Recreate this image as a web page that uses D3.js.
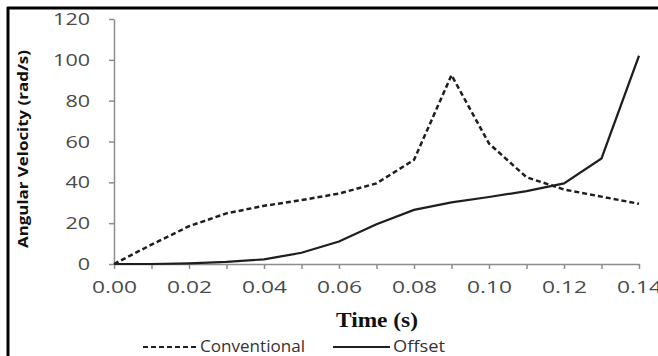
<!DOCTYPE html>
<html>
<head>
<meta charset="utf-8">
<script src="https://cdn.jsdelivr.net/npm/d3@7"></script>
<style>
  body { margin: 0; background: #fff; }
  svg { display: block; }
</style>
</head>
<body>
<svg id="chart" width="658" height="356"></svg>
<script>
// time values (s)
const times = [0, 0.01, 0.02, 0.03, 0.04, 0.05, 0.06, 0.07, 0.08, 0.09, 0.10, 0.11, 0.12, 0.13, 0.14];
// angular velocity (rad/s)
const conventional = [0, 9.5, 18.5, 24.8, 28.5, 31.3, 34.5, 39.5, 51, 92.5, 59, 42.5, 36.5, 33, 29.5];
const offset = [0, 0, 0.3, 1, 2.3, 5.5, 11, 19.5, 26.5, 30.2, 32.8, 35.7, 39.5, 51.7, 102];
const xTickLabels = [0, 0.02, 0.04, 0.06, 0.08, 0.10, 0.12, 0.14];
const yTickLabels = [0, 20, 40, 60, 80, 100, 120];
const seriesNames = ['Conventional', 'Offset'];

const svg = d3.select('#chart');
const axisColor = '#8c8c8c';
const lineColor = '#1e1e1e';

const x = d3.scaleLinear().domain([0, 0.14]).range([114, 639]);
const y = d3.scaleLinear().domain([0, 120]).range([264, 19]);

// frame (top and left edges of the cropped figure box)
svg.append('line').attr('x1', 7).attr('x2', 658).attr('y1', 8).attr('y2', 8)
  .attr('stroke', '#000').attr('stroke-width', 3);
svg.append('line').attr('x1', 8).attr('x2', 8).attr('y1', 7).attr('y2', 356)
  .attr('stroke', '#000').attr('stroke-width', 3);

// y axis
const yAxis = svg.append('g')
  .attr('transform', `translate(${x(0)},0)`)
  .call(d3.axisLeft(y).tickValues(yTickLabels).tickSize(5).tickSizeOuter(0).tickPadding(19)
    .tickFormat(d3.format('d')));
yAxis.select('.domain').attr('stroke', axisColor).attr('stroke-width', 1.5);
yAxis.selectAll('.tick line').attr('stroke', axisColor).attr('stroke-width', 1.5);
yAxis.selectAll('.tick text')
  .attr('fill', '#4a4a4a')
  .style('font-family', '"Open Sans", sans-serif')
  .style('font-size', '16px')
  .attr('dy', '0.35em')
  .attr('textLength', d => String(d).length * 12.3)
  .attr('lengthAdjust', 'spacingAndGlyphs');

// x axis, minor ticks every 0.01 and labels every 0.02
const xAxis = svg.append('g')
  .attr('transform', `translate(0,${y(0)})`)
  .call(d3.axisBottom(x).tickValues(times).tickSize(5).tickSizeOuter(0).tickPadding(12)
    .tickFormat(d => xTickLabels.some(v => Math.abs(v - d) < 1e-9) ? d3.format('.2f')(d) : ''));
xAxis.select('.domain').attr('stroke', axisColor).attr('stroke-width', 1.5);
xAxis.selectAll('.tick line').attr('stroke', axisColor).attr('stroke-width', 1.5);
xAxis.selectAll('.tick text')
  .filter(function () { return this.textContent !== ''; })
  .attr('fill', '#4a4a4a')
  .style('font-family', '"Open Sans", sans-serif')
  .style('font-size', '17px')
  .attr('textLength', 45)
  .attr('lengthAdjust', 'spacingAndGlyphs');

// axis titles
svg.append('text')
  .attr('x', 377).attr('y', 327)
  .attr('text-anchor', 'middle')
  .style('font-family', '"Liberation Serif", "Times New Roman", serif')
  .style('font-weight', 'bold')
  .style('font-size', '21px')
  .attr('fill', '#111')
  .attr('textLength', 82).attr('lengthAdjust', 'spacingAndGlyphs')
  .text('Time (s)');

svg.append('text')
  .attr('transform', 'translate(28,149) rotate(-90)')
  .attr('text-anchor', 'middle')
  .style('font-family', '"Open Sans", sans-serif')
  .style('font-weight', 'bold')
  .style('font-size', '15px')
  .attr('fill', '#111')
  .attr('textLength', 198).attr('lengthAdjust', 'spacingAndGlyphs')
  .text('Angular Velocity (rad/s)');

// lines
const line = d3.line().x((d, i) => x(times[i])).y(d => y(d));

svg.append('path')
  .datum(conventional)
  .attr('d', line)
  .attr('fill', 'none')
  .attr('stroke', lineColor)
  .attr('stroke-width', 2.5)
  .attr('stroke-dasharray', '5,3');

svg.append('path')
  .datum(offset)
  .attr('d', line)
  .attr('fill', 'none')
  .attr('stroke', lineColor)
  .attr('stroke-width', 2.2);

// legend
const legend = [
  { name: seriesNames[0], x1: 143, x2: 197, tx: 200, w: 105, dash: '5,3' },
  { name: seriesNames[1], x1: 333, x2: 390, tx: 393, w: 52, dash: null }
];
legend.forEach(l => {
  svg.append('line')
    .attr('x1', l.x1).attr('x2', l.x2).attr('y1', 347).attr('y2', 347)
    .attr('stroke', lineColor).attr('stroke-width', 2.2)
    .attr('stroke-dasharray', l.dash);
  svg.append('text')
    .attr('x', l.tx).attr('y', 352)
    .style('font-family', '"Open Sans", sans-serif')
    .style('font-size', '16px')
    .attr('fill', '#333')
    .attr('textLength', l.w).attr('lengthAdjust', 'spacingAndGlyphs')
    .text(l.name);
});
</script>
</body>
</html>
